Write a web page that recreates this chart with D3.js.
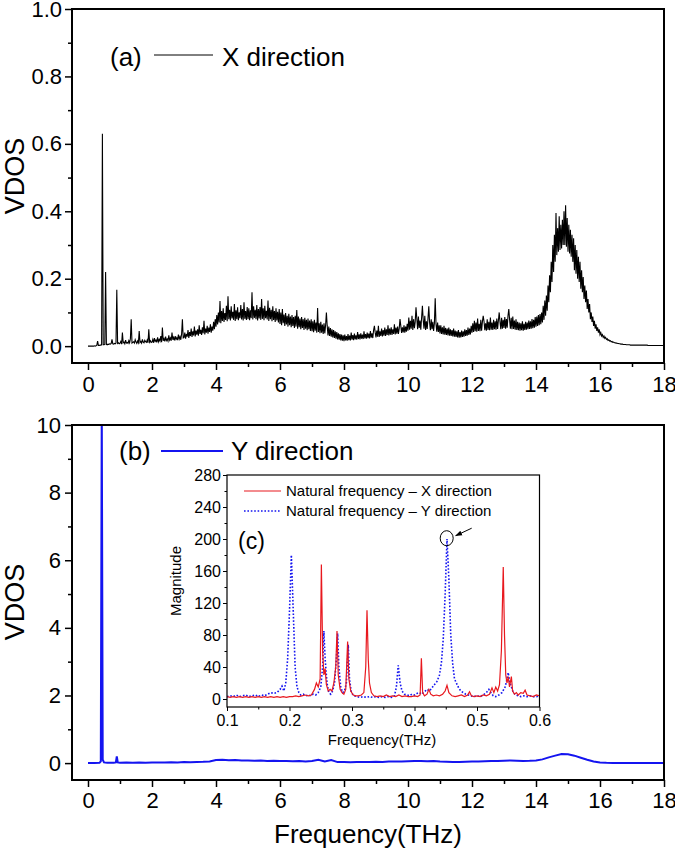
<!DOCTYPE html>
<html>
<head>
<meta charset="utf-8">
<script src="https://cdn.jsdelivr.net/npm/d3@7"></script>
<style>
html,body{margin:0;padding:0;background:#fff;}
svg{display:block;}
</style>
</head>
<body>
<script>
// ---------------- DATA ----------------
// (a) X-direction VDOS, sampled every 0.025 THz from 0 to 18 THz (one row = 1 THz)
const vdosXStart = 0;
const vdosXStep = 0.025;
const vdosX = [
0,0,0,0,0,0,0,0,0.001,0,0.001,0.002,0.015,0.002,0.002,0.003,0.003,0.004,0.63,0.004,0.004,0.005,0.22,0.005,0.004,0.006,0.005,0.007,0.006,0.008,0.02,0.007,0.006,0.008,0.007,0.009,0.167,0.008,0.010,0.007,
0.009,0.014,0.006,0.040,0.010,0.012,0.007,0.018,0.009,0.011,0.008,0.016,0.010,0.022,0.080,0.009,0.011,0.013,0.009,0.019,0.012,0.008,0.015,0.010,0.045,0.011,0.014,0.009,0.020,0.012,0.010,0.017,0.013,0.011,0.018,0.010,0.050,0.012,0.016,0.011,
0.012,0.020,0.010,0.024,0.014,0.018,0.011,0.026,0.013,0.020,0.015,0.030,0.012,0.055,0.016,0.022,0.014,0.028,0.017,0.021,0.015,0.032,0.018,0.024,0.016,0.040,0.019,0.026,0.017,0.030,0.020,0.025,0.018,0.034,0.021,0.028,0.019,0.036,0.080,0.024,
0.025,0.040,0.022,0.036,0.028,0.048,0.024,0.042,0.030,0.052,0.027,0.044,0.032,0.058,0.029,0.046,0.034,0.050,0.031,0.062,0.036,0.048,0.033,0.056,0.038,0.075,0.035,0.052,0.040,0.060,0.037,0.055,0.042,0.065,0.040,0.058,0.046,0.072,0.050,0.080,
0.058,0.092,0.064,0.100,0.070,0.134,0.068,0.104,0.075,0.112,0.072,0.098,0.078,0.120,0.074,0.148,0.080,0.108,0.076,0.118,0.082,0.102,0.078,0.125,0.075,0.106,0.080,0.115,0.077,0.100,0.083,0.122,0.079,0.110,0.076,0.130,0.081,0.104,0.078,0.116,
0.080,0.112,0.077,0.106,0.083,0.160,0.079,0.118,0.084,0.108,0.080,0.122,0.076,0.110,0.082,0.116,0.078,0.140,0.081,0.112,0.077,0.120,0.083,0.105,0.079,0.135,0.075,0.114,0.080,0.108,0.074,0.118,0.078,0.104,0.072,0.112,0.076,0.102,0.070,0.110,
0.066,0.100,0.062,0.110,0.068,0.094,0.060,0.098,0.064,0.090,0.058,0.096,0.062,0.088,0.056,0.092,0.060,0.086,0.054,0.090,0.058,0.107,0.052,0.088,0.056,0.082,0.050,0.086,0.054,0.080,0.048,0.084,0.052,0.078,0.047,0.082,0.050,0.076,0.045,0.080,
0.044,0.074,0.041,0.078,0.046,0.070,0.040,0.113,0.042,0.068,0.038,0.072,0.040,0.064,0.036,0.068,0.038,0.062,0.100,0.060,0.032,0.058,0.030,0.054,0.028,0.050,0.026,0.048,0.024,0.044,0.022,0.042,0.020,0.038,0.019,0.036,0.017,0.034,0.016,0.032,
0.015,0.034,0.017,0.030,0.016,0.036,0.018,0.031,0.017,0.040,0.019,0.033,0.018,0.037,0.020,0.032,0.019,0.042,0.021,0.035,0.020,0.038,0.022,0.034,0.021,0.044,0.023,0.036,0.022,0.040,0.024,0.037,0.023,0.045,0.025,0.038,0.024,0.048,0.060,0.040,
0.026,0.046,0.028,0.060,0.027,0.044,0.030,0.052,0.029,0.048,0.031,0.055,0.030,0.050,0.033,0.062,0.032,0.052,0.034,0.056,0.033,0.050,0.036,0.065,0.035,0.055,0.037,0.058,0.036,0.052,0.080,0.060,0.039,0.056,0.041,0.062,0.040,0.058,0.043,0.066,
0.046,0.085,0.049,0.075,0.052,0.090,0.048,0.080,0.053,0.072,0.115,0.082,0.050,0.088,0.054,0.076,0.049,0.084,0.120,0.078,0.052,0.090,0.048,0.074,0.051,0.082,0.118,0.070,0.047,0.080,0.050,0.072,0.045,0.068,0.142,0.066,0.043,0.070,0.042,0.062,
0.038,0.062,0.036,0.056,0.035,0.060,0.034,0.054,0.033,0.052,0.032,0.055,0.031,0.050,0.030,0.048,0.029,0.052,0.028,0.046,0.027,0.044,0.026,0.048,0.025,0.042,0.026,0.046,0.027,0.044,0.028,0.050,0.030,0.048,0.031,0.055,0.033,0.052,0.035,0.060,
0.040,0.068,0.042,0.075,0.044,0.070,0.043,0.082,0.045,0.066,0.044,0.078,0.046,0.072,0.090,0.074,0.047,0.068,0.046,0.080,0.048,0.072,0.047,0.085,0.049,0.070,0.048,0.078,0.050,0.074,0.049,0.082,0.051,0.076,0.100,0.072,0.050,0.084,0.052,0.078,
0.054,0.086,0.052,0.080,0.055,0.090,0.110,0.078,0.052,0.084,0.050,0.088,0.051,0.076,0.049,0.080,0.048,0.072,0.047,0.070,0.046,0.068,0.047,0.074,0.046,0.066,0.048,0.072,0.049,0.070,0.050,0.076,0.051,0.074,0.052,0.080,0.053,0.078,0.055,0.086,
0.058,0.088,0.060,0.092,0.062,0.095,0.065,0.100,0.070,0.120,0.078,0.135,0.090,0.150,0.105,0.180,0.130,0.210,0.160,0.250,0.190,0.300,0.220,0.330,0.250,0.395,0.270,0.350,0.280,0.385,0.285,0.360,0.290,0.375,0.300,0.400,0.300,0.418,0.295,0.380,
0.280,0.360,0.275,0.345,0.265,0.330,0.250,0.320,0.225,0.300,0.215,0.285,0.200,0.265,0.190,0.250,0.170,0.225,0.160,0.205,0.140,0.180,0.130,0.165,0.110,0.140,0.100,0.125,0.080,0.100,0.072,0.088,0.060,0.075,0.052,0.065,0.045,0.056,0.040,0.050,
0.034,0.040,0.030,0.034,0.026,0.030,0.023,0.026,0.020,0.022,0.017,0.019,0.015,0.016,0.013,0.014,0.011,0.012,0.010,0.010,0.009,0.009,0.008,0.008,0.007,0.007,0.006,0.006,0.006,0.005,0.005,0.005,0.005,0.004,0.004,0.004,0.004,0.004,0.003,0.003,
0.003,0.003,0.003,0.003,0.003,0.003,0.003,0.003,0.003,0.003,0.003,0.003,0.003,0.003,0.003,0.003,0.003,0.003,0.003,0.003,0.002,0.002,0.002,0.002,0.002,0.002,0.002,0.002,0.002,0.002,0.002,0.002,0.002,0.002,0.002,0.002,0.002,0.002,0.002,0.002,
0.002
];

// (b) Y-direction VDOS
const freqY = [0,0.2,0.36,0.40,0.43,0.46,0.50,0.6,0.8,0.87,0.9,0.93,
1.0,1.2,1.4,1.6,1.8,2.0,2.2,2.4,2.6,2.8,3.0,3.2,3.4,3.6,3.8,4.0,4.2,4.4,4.6,4.8,
5.0,5.2,5.4,5.6,5.8,6.0,6.2,6.4,6.6,6.8,7.0,7.2,7.4,7.6,7.8,8.0,8.2,8.4,8.6,8.8,
9.0,9.2,9.4,9.6,9.8,10.0,10.2,10.4,10.6,10.8,11.0,11.2,11.4,11.6,11.8,12.0,12.2,12.4,12.6,12.8,
13.0,13.2,13.4,13.6,13.8,14.0,14.2,14.4,14.6,14.8,15.0,15.2,15.4,15.6,15.8,16.0,16.2,16.4,16.6,16.8,
17.0,17.2,17.4,17.6,17.8,18.0];
const vdosY = [0,0,0.01,0.05,10.6,0.10,0.02,0.01,0.01,0.02,0.20,0.02,
0.010,0.015,0.010,0.015,0.012,0.015,0.020,0.018,0.025,0.020,0.030,0.028,0.035,0.040,0.050,0.090,0.100,0.085,0.090,0.075,
0.080,0.070,0.075,0.065,0.070,0.060,0.065,0.055,0.060,0.050,0.060,0.100,0.050,0.090,0.030,0.030,0.025,0.030,0.035,0.030,
0.040,0.035,0.045,0.050,0.045,0.055,0.060,0.065,0.055,0.060,0.045,0.040,0.035,0.035,0.040,0.045,0.050,0.055,0.060,0.065,
0.070,0.075,0.070,0.065,0.070,0.080,0.110,0.170,0.220,0.270,0.260,0.220,0.160,0.100,0.050,0.020,0.008,0.004,0.003,0.002,
0.002,0.002,0.002,0.002,0.002,0.002];

// (c) Natural frequency spectra
const freqNX = [0.100,0.105,0.110,0.115,0.120,0.125,0.130,0.135,0.140,0.145,0.150,0.155,0.160,0.165,0.170,0.175,0.180,0.185,0.190,0.195,
0.200,0.205,0.210,0.215,0.220,0.225,0.230,0.235,0.240,0.243,0.246,0.249,0.251,0.253,0.255,0.257,0.259,0.262,0.265,0.268,
0.271,0.274,0.276,0.278,0.281,0.284,0.287,0.290,0.293,0.295,0.298,0.302,0.306,0.310,0.315,0.319,0.322,0.324,0.326,0.328,
0.331,0.335,0.340,0.345,0.350,0.355,0.360,0.365,0.370,0.375,0.380,0.385,0.390,0.395,0.400,0.405,0.409,0.411,0.413,0.416,
0.420,0.423,0.426,0.430,0.435,0.440,0.445,0.449,0.452,0.455,0.460,0.465,0.470,0.475,0.480,0.485,0.488,0.491,0.495,0.500,
0.505,0.510,0.515,0.520,0.524,0.527,0.530,0.533,0.536,0.539,0.542,0.544,0.546,0.548,0.550,0.552,0.555,0.557,0.560,0.563,
0.566,0.570,0.574,0.577,0.580,0.585,0.590,0.595,0.600];
const magNX = [3,2,3,2,3,2,3,2,3,2,3,2,3,2,3,2,3,2,3,2,
3,3,4,3,4,5,4,5,12,20,15,25,168,60,30,38,18,10,12,10,
20,40,85,30,12,8,6,12,72,25,10,5,4,4,5,8,40,111,50,20,
8,4,3,4,3,5,3,4,3,5,3,4,3,3,4,3,5,51,8,4,
6,12,6,4,5,4,6,10,17,8,4,3,4,5,3,5,9,4,3,4,
3,5,4,6,14,8,15,10,18,60,165,80,30,20,28,15,28,10,6,8,
5,8,7,11,5,4,3,5,4];

const freqNY = [0.100,0.105,0.110,0.115,0.120,0.125,0.130,0.135,0.140,0.145,0.150,0.155,0.160,0.165,0.170,0.175,0.180,0.185,0.188,0.191,
0.194,0.197,0.200,0.203,0.206,0.209,0.212,0.215,0.218,0.222,0.226,0.230,0.234,0.238,0.242,0.246,0.250,0.253,0.255,0.257,
0.260,0.263,0.266,0.269,0.272,0.275,0.277,0.279,0.282,0.285,0.288,0.291,0.294,0.296,0.299,0.303,0.308,0.313,0.318,0.323,
0.328,0.333,0.338,0.343,0.348,0.353,0.358,0.363,0.368,0.371,0.374,0.377,0.380,0.384,0.388,0.392,0.396,0.400,0.404,0.408,
0.412,0.416,0.420,0.424,0.428,0.432,0.436,0.440,0.443,0.446,0.449,0.452,0.455,0.458,0.461,0.464,0.467,0.470,0.474,0.478,
0.482,0.486,0.490,0.495,0.500,0.505,0.510,0.515,0.519,0.522,0.526,0.530,0.535,0.540,0.545,0.548,0.550,0.552,0.555,0.558,
0.562,0.566,0.570,0.575,0.580,0.585,0.590,0.595,0.600];
const magNY = [3,4,3,5,3,4,5,3,4,5,3,5,4,6,8,7,8,12,16,10,
20,50,110,180,110,40,15,8,5,6,4,5,4,6,5,8,15,40,85,50,
20,8,6,10,20,50,82,40,15,8,10,20,68,25,8,4,3,2,3,2,
3,2,3,2,3,2,3,2,4,15,42,20,10,6,5,4,6,5,7,8,
6,9,12,10,14,18,22,30,45,75,130,200,150,80,45,25,20,15,10,8,
6,5,4,3,4,3,5,8,12,8,4,3,5,8,15,25,33,22,15,8,
5,4,3,4,3,4,3,3,4];

// ticks & labels
const mainXTicks = [0,2,4,6,8,10,12,14,16,18];
const mainXMinor = [1,3,5,7,9,11,13,15,17];
const yTicksA = [0,0.2,0.4,0.6,0.8,1.0];
const yMinorA = [0.1,0.3,0.5,0.7,0.9];
const yTicksB = [0,2,4,6,8,10];
const yMinorB = [1,3,5,7,9];
const insetXTicks = [0.1,0.2,0.3,0.4,0.5,0.6];
const insetXMinor = [0.15,0.25,0.35,0.45,0.55];
const insetYTicks = [0,40,80,120,160,200,240,280];
const insetYMinor = [20,60,100,140,180,220,260];
const labelA = "(a)", legendA = "X direction";
const labelB = "(b)", legendB = "Y direction";
const labelC = "(c)";
const legendC = ["Natural frequency \u2013 X direction", "Natural frequency \u2013 Y direction"];
const yTitle = "VDOS", xTitle = "Frequency(THz)", insetYTitle = "Magnitude", insetXTitle = "Frequency(THz)";

// ---------------- DRAW ----------------
const FONT = "'Liberation Sans', Arial, Helvetica, sans-serif";
const BLUE = "#1414f0", RED = "#e8181e";
const svg = d3.select("body").append("svg").attr("width",675).attr("height",854)
  .style("font-family", FONT);

const defs = svg.append("defs");
defs.append("marker").attr("id","arr").attr("viewBox","0 0 10 10").attr("refX",9).attr("refY",5)
  .attr("markerWidth",7).attr("markerHeight",7).attr("orient","auto")
  .append("path").attr("d","M0,1.5 L10,5 L0,8.5 Z").attr("fill","#000");

function clip(id, x, y){
  defs.append("clipPath").attr("id",id).append("rect")
    .attr("x",x.range()[0]).attr("y",y.range()[1])
    .attr("width",x.range()[1]-x.range()[0]).attr("height",y.range()[0]-y.range()[1]);
}

function axes(g, x, y, o){
  const bx = g.append("g").attr("transform",`translate(0,${y.range()[0]})`)
    .call(d3.axisBottom(x).tickValues(o.xt).tickSize(o.tl).tickPadding(o.xpad).tickSizeOuter(0).tickFormat(o.xf));
  const bxm = g.append("g").attr("transform",`translate(0,${y.range()[0]})`)
    .call(d3.axisBottom(x).tickValues(o.xm).tickSize(o.tm).tickSizeOuter(0).tickFormat(""));
  const ly = g.append("g").attr("transform",`translate(${x.range()[0]},0)`)
    .call(d3.axisLeft(y).tickValues(o.yt).tickSize(o.tl).tickPadding(o.ypad).tickSizeOuter(0).tickFormat(o.yf));
  const lym = g.append("g").attr("transform",`translate(${x.range()[0]},0)`)
    .call(d3.axisLeft(y).tickValues(o.ym).tickSize(o.tm).tickSizeOuter(0).tickFormat(""));
  [bx,bxm,ly,lym].forEach(a=>{
    a.select(".domain").remove();
    a.selectAll(".tick line").attr("stroke","#000").attr("stroke-width",o.tw);
    a.selectAll("text").attr("fill","#000").style("font-size",o.fs+"px").style("font-family",FONT);
  });
  g.append("rect").attr("x",x.range()[0]).attr("y",y.range()[1])
    .attr("width",x.range()[1]-x.range()[0]).attr("height",y.range()[0]-y.range()[1])
    .attr("fill","none").attr("stroke","#000").attr("stroke-width",o.fw);
}

// ---- Panel (a)
const xA = d3.scaleLinear([-0.5,18],[72,664]);
const yA = d3.scaleLinear([-0.05,1.0],[363,9]);
clip("clipA", xA, yA);
const gA = svg.append("g");
gA.append("path").datum(vdosX).attr("clip-path","url(#clipA)")
  .attr("fill","none").attr("stroke","#000").attr("stroke-width",1.1)
  .attr("d", d3.line().x((d,i)=>xA(vdosXStart + i*vdosXStep)).y(d=>yA(d)));
axes(gA, xA, yA, {xt:mainXTicks, xm:mainXMinor, yt:yTicksA, ym:yMinorA, tl:7, tm:4, xpad:6, ypad:3,
  xf:d3.format("d"), yf:d3.format(".1f"), tw:1.5, fw:2, fs:22});
gA.append("text").attr("x",110).attr("y",66).style("font-size","26px").text(labelA);
gA.append("line").attr("x1",154).attr("x2",213).attr("y1",55).attr("y2",55).attr("stroke","#000").attr("stroke-width",1);
gA.append("text").attr("x",222).attr("y",66).style("font-size","26px").text(legendA);
gA.append("text").attr("transform",`translate(24,176) rotate(-90)`).attr("text-anchor","middle")
  .style("font-size","27px").text(yTitle);

// ---- Panel (b)
const xB = d3.scaleLinear([-0.5,18],[72,664]);
const yB = d3.scaleLinear([-0.5,10],[780,425]);
clip("clipB", xB, yB);
const gB = svg.append("g");
gB.append("path").datum(freqY.map((f,i)=>[f,vdosY[i]])).attr("clip-path","url(#clipB)")
  .attr("fill","none").attr("stroke",BLUE).attr("stroke-width",2)
  .attr("d", d3.line().x(d=>xB(d[0])).y(d=>yB(d[1])));
axes(gB, xB, yB, {xt:mainXTicks, xm:mainXMinor, yt:yTicksB, ym:yMinorB, tl:7, tm:4, xpad:5, ypad:4,
  xf:d3.format("d"), yf:d3.format("d"), tw:1.5, fw:2, fs:22});
gB.append("text").attr("x",119).attr("y",460).style("font-size","26px").text(labelB);
gB.append("line").attr("x1",161).attr("x2",223).attr("y1",451).attr("y2",451).attr("stroke",BLUE).attr("stroke-width",2.2);
gB.append("text").attr("x",231).attr("y",460).style("font-size","26px").text(legendB);
gB.append("text").attr("transform",`translate(24,602) rotate(-90)`).attr("text-anchor","middle")
  .style("font-size","27px").text(yTitle);
gB.append("text").attr("x",368).attr("y",843).attr("text-anchor","middle").style("font-size","26px").text(xTitle);

// ---- Inset (c)
const xC = d3.scaleLinear([0.1,0.6],[227,539.5]);
const yC = d3.scaleLinear([-10,280],[707,475]);
clip("clipC", xC, yC);
const gC = svg.append("g");
gC.append("rect").attr("x",xC.range()[0]).attr("y",yC.range()[1])
  .attr("width",xC.range()[1]-xC.range()[0]).attr("height",yC.range()[0]-yC.range()[1]).attr("fill","#fff");
const lineC = d3.line().x(d=>xC(d[0])).y(d=>yC(d[1]));
gC.append("path").datum(freqNY.map((f,i)=>[f,magNY[i]])).attr("clip-path","url(#clipC)")
  .attr("fill","none").attr("stroke",BLUE).attr("stroke-width",1.6).attr("stroke-dasharray","1.6,1.8")
  .attr("d", lineC);
gC.append("path").datum(freqNX.map((f,i)=>[f,magNX[i]])).attr("clip-path","url(#clipC)")
  .attr("fill","none").attr("stroke",RED).attr("stroke-width",1.2)
  .attr("d", lineC);
axes(gC, xC, yC, {xt:insetXTicks, xm:insetXMinor, yt:insetYTicks, ym:insetYMinor, tl:4, tm:2.5, xpad:4, ypad:2,
  xf:d3.format(".1f"), yf:d3.format("d"), tw:1, fw:1.2, fs:16});
// legend
gC.append("line").attr("x1",244).attr("x2",281).attr("y1",491).attr("y2",491).attr("stroke",RED).attr("stroke-width",1.2);
gC.append("text").attr("x",286).attr("y",496).style("font-size","15px").text(legendC[0]);
gC.append("line").attr("x1",244).attr("x2",281).attr("y1",511).attr("y2",511).attr("stroke",BLUE)
  .attr("stroke-width",1.6).attr("stroke-dasharray","1.6,1.8");
gC.append("text").attr("x",286).attr("y",516).style("font-size","15px").text(legendC[1]);
gC.append("text").attr("x",238).attr("y",549).style("font-size","23px").text(labelC);
// highlight of the Y peak
const cx = xC(0.4515), cy = yC(201);
gC.append("ellipse").attr("cx",cx).attr("cy",cy).attr("rx",6.5).attr("ry",7.5)
  .attr("fill","none").attr("stroke","#000").attr("stroke-width",1);
gC.append("line").attr("x1",cx+25).attr("y1",cy-10).attr("x2",cx+9).attr("y2",cy-2.5)
  .attr("stroke","#000").attr("stroke-width",1).attr("marker-end","url(#arr)");
gC.append("text").attr("transform",`translate(181,581) rotate(-90)`).attr("text-anchor","middle")
  .style("font-size","15px").text(insetYTitle);
gC.append("text").attr("x",382).attr("y",745).attr("text-anchor","middle").style("font-size","15px").text(insetXTitle);
</script>
</body>
</html>
